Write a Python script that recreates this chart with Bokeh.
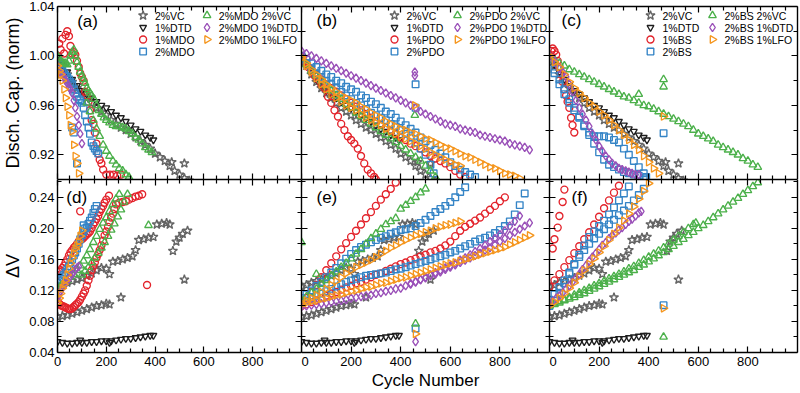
import math
from bokeh.plotting import figure
from bokeh.models import Range1d, LinearAxis, FixedTicker, NumeralTickFormatter
from bokeh.layouts import column, row
from bokeh.core.properties import value
from bokeh.embed import file_html
from bokeh.resources import INLINE

FONT = "Liberation Sans"

# ---------------- axes / ticks ----------------
X_RANGE = (0, 1000)
X_TICKS = [0, 200, 400, 600, 800]
X_MINOR = [50, 100, 150, 250, 300, 350, 450, 500, 550, 650, 700, 750, 850, 900, 950]
CAP_RANGE = (0.90, 1.04)
CAP_TICKS = [0.92, 0.96, 1.00, 1.04]
CAP_MINOR = [0.90, 0.94, 0.98, 1.02]
DV_RANGE = (0.04, 0.263)
DV_TICKS = [0.04, 0.08, 0.12, 0.16, 0.20, 0.24]
DV_MINOR = [0.06, 0.10, 0.14, 0.18, 0.22, 0.26]

# ---------------- shared baseline cells (cycle, value) ----------------
VC_CAP = [(0,1.000),(20,0.992),(40,0.985),(60,0.979),(80,0.974),(100,0.970),(120,0.966),(140,0.962),(160,0.958),(180,0.955),(200,0.952),(220,0.948),(240,0.945),(260,0.942),(280,0.940),(300,0.937),(320,0.934),(340,0.931),(360,0.928),(380,0.925),(400,0.921),(420,0.918),(440,0.915),(460,0.911),(480,0.907),(500,0.904),(520,0.901),(540,0.899),(468,0.914),(520,0.913)]
DTD_CAP = [(0,1.000),(20,0.993),(40,0.987),(60,0.981),(80,0.976),(100,0.972),(120,0.969),(140,0.966),(160,0.963),(180,0.960),(200,0.958),(220,0.955),(240,0.952),(260,0.950),(280,0.947),(300,0.944),(320,0.941),(340,0.939),(360,0.936),(380,0.934),(393,0.932)]
VC_DV_LOW = [(0,0.086),(20,0.087),(40,0.088),(60,0.090),(80,0.092),(100,0.094),(120,0.096),(140,0.098),(160,0.100),(180,0.101),(200,0.103),(213,0.102),(260,0.111)]
VC_DV_HIGH = [(0,0.125),(20,0.127),(40,0.130),(60,0.132),(80,0.134),(100,0.136),(120,0.139),(140,0.142),(160,0.146),(180,0.149),(200,0.148),(213,0.141),(227,0.157),(247,0.158),(267,0.160),(287,0.162),(307,0.164),(320,0.172),(333,0.185),(353,0.186),(373,0.188),(393,0.189),(407,0.205),(427,0.206),(447,0.207),(460,0.205),(473,0.171),(487,0.183),(500,0.188),(513,0.193),(533,0.197),(520,0.134)]
DTD_DV = [(0,0.054),(20,0.053),(40,0.052),(60,0.052),(80,0.053),(93,0.056),(100,0.053),(120,0.053),(140,0.054),(160,0.054),(180,0.055),(200,0.055),(213,0.053),(220,0.055),(240,0.056),(260,0.057),(280,0.058),(300,0.058),(320,0.059),(340,0.060),(360,0.061),(380,0.062),(393,0.062)]

# ---------------- panel (a): MDO capacity ----------------
A_RED = [(0,1.000),(7,1.010),(13,1.005),(20,1.014),(27,1.002),(33,1.017),(40,1.020),(47,1.016),(53,1.008),(60,1.002),(67,1.003),(73,1.001),(80,0.996),(87,0.991),(93,0.986),(100,0.983),(107,0.980),(113,0.971),(120,0.968),(127,0.963),(133,0.956),(140,0.948),(147,0.945),(153,0.938),(160,0.929),(167,0.921),(173,0.916),(180,0.913),(187,0.908),(200,0.904),(215,0.904),(230,0.904),(245,0.903),(260,0.904)]
A_BLUE = [(0,0.998),(7,0.993),(13,0.990),(20,0.988),(27,0.986),(33,0.984),(40,0.983),(47,0.981),(53,0.979),(60,0.977),(67,0.973),(73,0.970),(80,0.967),(87,0.965),(93,0.964),(100,0.962),(107,0.958),(113,0.952),(120,0.947),(127,0.942),(133,0.937),(140,0.930),(147,0.927),(153,0.925),(160,0.923),(167,0.921),(60,0.942),(67,0.938),(80,0.913)]
A_GREEN = [(0,1.000),(7,0.998),(13,0.996),(20,0.995),(27,0.994),(33,0.994),(40,0.993),(47,0.996),(53,1.000),(60,1.003),(67,1.005),(73,1.000),(80,0.995),(87,0.991),(93,0.987),(100,0.984),(107,0.981),(113,0.978),(120,0.974),(127,0.972),(133,0.970),(140,0.968),(150,0.965),(160,0.960),(170,0.956),(180,0.953),(190,0.950),(200,0.948),(213,0.946),(227,0.944),(240,0.943),(253,0.943),(267,0.942),(280,0.941),(293,0.939),(307,0.937),(320,0.934),(333,0.932),(347,0.929),(360,0.926),(373,0.924),(387,0.922)]
A_GREEN_B = [(120,0.962),(133,0.955),(147,0.948),(160,0.941),(173,0.935),(187,0.928),(200,0.923),(213,0.919),(227,0.915),(240,0.912),(253,0.909),(267,0.907),(280,0.904),(293,0.902)]
A_PURPLE = [(0,0.992),(7,0.988),(13,0.986),(20,0.985),(27,0.983),(33,0.980),(40,0.978),(47,0.975),(53,0.973),(60,0.970),(67,0.964),(73,0.958),(80,0.951),(87,0.944),(93,0.937),(100,0.929)]
A_ORANGE = [(0,0.992),(7,0.988),(13,0.985),(20,0.980),(27,0.973),(33,0.966),(40,0.959),(47,0.952),(53,0.944),(60,0.939),(67,0.928),(73,0.919),(80,0.913),(87,0.905)]

# ---------------- panel (d): MDO delta V ----------------
D_RED_U = [(0,0.105),(7,0.103),(13,0.101),(20,0.100),(27,0.099),(33,0.098),(40,0.097),(47,0.096),(53,0.096),(60,0.097),(67,0.099),(73,0.101),(80,0.103),(87,0.105),(93,0.108),(100,0.112),(107,0.116),(113,0.120),(120,0.126),(127,0.133),(133,0.139),(140,0.146),(147,0.151),(153,0.156),(160,0.162),(167,0.167),(173,0.172),(180,0.178),(187,0.184),(193,0.191),(200,0.196),(207,0.202),(213,0.208),(220,0.214),(227,0.219),(233,0.225),(240,0.231),(253,0.233),(267,0.234),(280,0.235),(293,0.237),(307,0.239),(320,0.241),(333,0.242),(347,0.244),(367,0.127)]
D_RED_S = [(0,0.140),(7,0.144),(13,0.146),(20,0.149),(27,0.152),(33,0.156),(40,0.160),(47,0.165),(53,0.169),(60,0.172),(67,0.175),(73,0.177),(80,0.180),(87,0.183),(93,0.222),(100,0.186),(107,0.188),(113,0.190),(120,0.192),(127,0.194),(133,0.196),(140,0.200),(147,0.205),(153,0.208),(160,0.212),(167,0.216),(173,0.221),(180,0.225),(187,0.229),(193,0.233),(200,0.237),(211,0.242)]
D_BLUE = [(0,0.130),(7,0.133),(13,0.135),(20,0.137),(27,0.140),(33,0.143),(40,0.147),(47,0.151),(53,0.156),(60,0.160),(67,0.165),(73,0.169),(80,0.174),(87,0.180),(93,0.186),(100,0.191),(107,0.196),(113,0.200),(120,0.201),(127,0.206),(133,0.210),(140,0.214),(147,0.220),(153,0.225),(160,0.229),(107,0.204)]
D_GREEN = [(0,0.122),(13,0.126),(27,0.129),(40,0.133),(53,0.137),(67,0.141),(80,0.146),(93,0.152),(107,0.158),(120,0.165),(133,0.173),(147,0.182),(160,0.190),(173,0.199),(187,0.207),(200,0.214),(213,0.222),(227,0.231),(240,0.238),(253,0.244),(373,0.204)]
D_GREEN_B = [(100,0.140),(113,0.145),(127,0.150),(140,0.156),(153,0.162),(167,0.168),(180,0.175),(193,0.182),(207,0.190),(220,0.198),(233,0.206),(247,0.215),(260,0.224),(273,0.234),(287,0.244)]
D_PURPLE = [(0,0.110),(7,0.115),(13,0.119),(20,0.123),(27,0.126),(33,0.129),(40,0.132),(47,0.135),(53,0.138),(60,0.141),(67,0.144),(73,0.147),(80,0.149),(87,0.151)]
D_ORANGE = [(0,0.104),(7,0.110),(13,0.116),(20,0.123),(27,0.128),(33,0.133),(40,0.140),(47,0.148),(53,0.155),(60,0.162),(67,0.168),(73,0.174),(80,0.178),(87,0.183),(93,0.190),(100,0.197)]

# ---------------- panel (b): PDO capacity ----------------
B_RED = [(0,0.998),(13,0.995),(27,0.991),(40,0.988),(53,0.984),(67,0.981),(80,0.977),(93,0.974),(107,0.967),(120,0.962),(133,0.956),(147,0.951),(160,0.945),(173,0.940),(187,0.935),(200,0.932),(213,0.929),(227,0.925),(240,0.919),(253,0.913),(267,0.908),(280,0.905),(293,0.902),(300,0.900)]
B_RED_B = [(0,0.998),(20,0.993),(40,0.989),(60,0.985),(80,0.981),(100,0.977),(120,0.974),(140,0.971),(160,0.968),(180,0.965),(200,0.962),(220,0.959),(240,0.956),(260,0.953),(280,0.950),(300,0.947),(320,0.944),(340,0.942),(360,0.939),(380,0.937),(400,0.934),(420,0.932),(440,0.929),(460,0.927),(480,0.925),(500,0.922),(520,0.919),(540,0.917),(560,0.915),(580,0.913),(600,0.910),(620,0.907),(640,0.904),(660,0.902)]
B_BLUE = [(0,1.000),(20,0.997),(40,0.994),(60,0.991),(80,0.988),(100,0.985),(120,0.983),(140,0.980),(160,0.978),(180,0.975),(200,0.973),(220,0.971),(240,0.968),(260,0.966),(280,0.963),(300,0.961),(320,0.958),(340,0.955),(360,0.953),(380,0.950),(400,0.947),(420,0.944),(440,0.941),(460,0.938),(480,0.934),(500,0.931),(520,0.928),(540,0.924),(560,0.921),(580,0.918),(600,0.914),(620,0.911),(640,0.908),(660,0.906),(680,0.904),(700,0.902),(460,0.977),(460,0.958)]
B_BLUE_B = [(0,0.998),(20,0.994),(40,0.990),(60,0.986),(80,0.983),(100,0.980),(120,0.977),(140,0.974),(160,0.971),(180,0.968),(200,0.965),(220,0.962),(240,0.960),(260,0.957),(280,0.954),(300,0.952),(320,0.950),(340,0.948),(360,0.945),(380,0.943),(400,0.940),(420,0.937),(440,0.934),(460,0.930),(480,0.925),(500,0.920),(520,0.912),(533,0.905)]
B_GREEN = [(0,0.998),(20,0.993),(40,0.988),(60,0.984),(80,0.980),(100,0.976),(120,0.972),(140,0.968),(160,0.965),(180,0.961),(200,0.958),(220,0.954),(240,0.951),(260,0.948),(280,0.945),(300,0.942),(320,0.939),(340,0.936),(360,0.933),(380,0.930),(400,0.927),(420,0.924),(440,0.921),(460,0.918),(480,0.915),(500,0.911),(520,0.907),(540,0.902),(457,0.952)]
B_PURPLE = [(0,1.004),(20,1.002),(40,1.000),(60,0.998),(80,0.996),(100,0.994),(120,0.992),(140,0.990),(160,0.988),(180,0.986),(200,0.984),(220,0.982),(240,0.980),(260,0.978),(280,0.976),(300,0.974),(320,0.972),(340,0.970),(360,0.968),(380,0.966),(400,0.964),(420,0.962),(440,0.960),(460,0.958),(480,0.955),(500,0.953),(520,0.951),(540,0.949),(560,0.947),(580,0.945),(600,0.944),(620,0.943),(640,0.941),(660,0.940),(680,0.939),(700,0.938),(720,0.936),(740,0.935),(760,0.934),(780,0.933),(800,0.932),(820,0.931),(840,0.929),(860,0.928),(880,0.927),(900,0.926),(920,0.924),(457,0.987),(457,0.984)]
B_ORANGE = [(0,0.999),(20,0.994),(40,0.989),(60,0.985),(80,0.981),(100,0.977),(120,0.974),(140,0.971),(160,0.968),(180,0.966),(200,0.964),(220,0.962),(240,0.959),(260,0.957),(280,0.954),(300,0.952),(320,0.950),(340,0.947),(360,0.945),(380,0.943),(400,0.941),(420,0.940),(440,0.938),(460,0.937),(480,0.935),(500,0.933),(520,0.932),(540,0.930),(560,0.928),(580,0.926),(600,0.925),(620,0.923),(640,0.921),(660,0.919),(680,0.918),(700,0.916),(720,0.914),(740,0.912),(760,0.910),(780,0.909),(800,0.907),(820,0.905),(840,0.904),(860,0.903),(880,0.901),(457,0.960)]
B_ORANGE_B = [(0,0.998),(20,0.992),(40,0.987),(60,0.982),(80,0.977),(100,0.973),(120,0.969),(140,0.966),(160,0.963),(180,0.960),(200,0.958),(220,0.956),(240,0.953),(260,0.950),(280,0.948),(300,0.946),(320,0.944),(340,0.941),(360,0.939),(380,0.937),(400,0.935),(420,0.933),(440,0.931),(460,0.929),(480,0.927),(500,0.925),(520,0.922),(540,0.920),(560,0.918),(580,0.916),(600,0.914),(620,0.912),(640,0.911)]

# ---------------- panel (e): PDO delta V ----------------
E_RED = [(0,0.103),(20,0.110),(40,0.118),(60,0.127),(80,0.137),(100,0.146),(120,0.155),(140,0.164),(160,0.173),(180,0.181),(200,0.189),(220,0.197),(240,0.205),(260,0.213),(280,0.221),(300,0.229),(320,0.237),(340,0.244),(360,0.251),(380,0.259)]
E_RED_B = [(0,0.100),(20,0.102),(40,0.105),(60,0.107),(80,0.110),(100,0.113),(120,0.116),(140,0.118),(160,0.121),(180,0.124),(200,0.126),(220,0.129),(240,0.131),(260,0.134),(280,0.137),(300,0.140),(320,0.142),(340,0.145),(360,0.148),(380,0.151),(400,0.154),(420,0.156),(440,0.159),(460,0.161),(480,0.164),(500,0.166),(520,0.169),(540,0.171),(560,0.174),(580,0.178),(600,0.183),(620,0.190),(640,0.197),(660,0.202),(680,0.206),(700,0.210),(720,0.214),(740,0.219),(760,0.224),(780,0.229),(800,0.235),(820,0.240)]
E_BLUE = [(0,0.110),(20,0.115),(40,0.120),(60,0.126),(80,0.131),(100,0.137),(120,0.143),(140,0.149),(160,0.155),(180,0.161),(200,0.167),(220,0.172),(240,0.176),(260,0.179),(280,0.182),(300,0.185),(320,0.188),(340,0.190),(360,0.193),(380,0.195),(400,0.198),(420,0.199),(440,0.200),(460,0.203),(480,0.207),(500,0.211),(520,0.216),(540,0.221),(560,0.225),(580,0.229),(600,0.234),(620,0.240),(640,0.247),(660,0.253),(460,0.071)]
E_BLUE_B = [(0,0.104),(20,0.107),(40,0.110),(60,0.113),(80,0.116),(100,0.119),(120,0.122),(140,0.125),(160,0.128),(180,0.131),(200,0.133),(220,0.135),(240,0.137),(260,0.139),(280,0.140),(300,0.141),(320,0.142),(340,0.143),(360,0.145),(380,0.147),(400,0.148),(420,0.150),(440,0.152),(460,0.154),(480,0.156),(500,0.158),(520,0.160),(540,0.162),(560,0.164),(580,0.166),(600,0.169),(620,0.171),(640,0.174),(660,0.177),(680,0.180),(700,0.183),(720,0.186),(740,0.188),(760,0.191),(780,0.194),(800,0.198),(820,0.203),(840,0.209),(860,0.218),(880,0.230),(900,0.245)]
E_GREEN = [(0,0.107),(20,0.112),(40,0.117),(60,0.122),(80,0.128),(100,0.133),(120,0.139),(140,0.144),(160,0.150),(180,0.155),(200,0.161),(220,0.167),(240,0.173),(260,0.180),(280,0.187),(300,0.193),(320,0.199),(340,0.205),(360,0.209),(380,0.213),(400,0.225),(420,0.230),(440,0.235),(460,0.240),(480,0.246),(500,0.251),(0,0.182),(60,0.141),(460,0.077)]
E_PURPLE = [(0,0.099),(20,0.100),(40,0.101),(60,0.102),(80,0.103),(100,0.104),(120,0.105),(140,0.106),(160,0.107),(180,0.108),(200,0.110),(220,0.111),(240,0.112),(260,0.113),(280,0.114),(300,0.116),(320,0.117),(340,0.119),(360,0.120),(380,0.122),(400,0.123),(420,0.126),(440,0.128),(460,0.131),(480,0.134),(500,0.137),(520,0.140),(540,0.143),(560,0.146),(580,0.149),(600,0.152),(620,0.155),(640,0.159),(660,0.162),(680,0.166),(700,0.170),(720,0.174),(740,0.178),(760,0.183),(780,0.187),(800,0.192),(820,0.197),(840,0.203),(860,0.209),(880,0.216),(460,0.054)]
E_PURPLE_B = [(440,0.129),(460,0.131),(480,0.134),(500,0.136),(520,0.139),(540,0.141),(560,0.144),(580,0.147),(600,0.150),(620,0.153),(640,0.156),(660,0.159),(680,0.162),(700,0.165),(720,0.168),(740,0.172),(760,0.175),(780,0.179),(800,0.183),(820,0.187),(840,0.191),(860,0.195),(880,0.199),(900,0.203),(920,0.207)]
E_ORANGE = [(0,0.104),(20,0.107),(40,0.110),(60,0.114),(80,0.118),(100,0.122),(120,0.127),(140,0.132),(160,0.137),(180,0.142),(200,0.146),(220,0.150),(240,0.153),(260,0.156),(280,0.159),(300,0.163),(320,0.167),(340,0.171),(360,0.175),(380,0.178),(400,0.182),(420,0.185),(440,0.188),(460,0.191),(480,0.193),(500,0.195),(520,0.197),(540,0.200),(560,0.202),(580,0.204),(600,0.205),(620,0.207),(640,0.209),(460,0.064)]
E_ORANGE_B = [(0,0.102),(20,0.104),(40,0.106),(60,0.107),(80,0.109),(100,0.110),(120,0.112),(140,0.114),(160,0.115),(180,0.117),(200,0.119),(220,0.120),(240,0.122),(260,0.124),(280,0.125),(300,0.127),(320,0.129),(340,0.130),(360,0.132),(380,0.134),(400,0.136),(420,0.137),(440,0.139),(460,0.141),(480,0.143),(500,0.145),(520,0.147),(540,0.149),(560,0.151),(580,0.153),(600,0.155),(620,0.156),(640,0.158),(660,0.160),(680,0.162),(700,0.164),(720,0.166),(740,0.168),(760,0.170),(780,0.172),(800,0.174),(820,0.176),(840,0.179),(860,0.182),(880,0.185),(900,0.188),(920,0.191)]

# ---------------- panel (c): BS capacity ----------------
C_RED = [(0,1.000),(7,1.004),(13,1.006),(20,1.004),(27,1.001),(33,0.996),(40,0.990),(47,0.985),(53,0.979),(60,0.973),(67,0.968),(73,0.963),(80,0.958),(87,0.950),(93,0.944),(100,0.938)]
C_BLUE = [(0,0.997),(20,0.989),(40,0.981),(60,0.973),(80,0.965),(100,0.958),(120,0.951),(140,0.944),(160,0.938),(180,0.935),(200,0.935),(220,0.935),(240,0.934),(260,0.932),(280,0.930),(300,0.925),(320,0.920),(340,0.915),(360,0.910),(380,0.905),(390,0.902),(460,0.9375)]
C_BLUE_B = [(0,0.995),(20,0.986),(40,0.977),(60,0.969),(80,0.962),(100,0.956),(120,0.950),(140,0.943),(160,0.936),(180,0.929),(200,0.922),(220,0.916),(240,0.912),(260,0.910),(280,0.908),(300,0.906),(320,0.905),(340,0.904),(360,0.903),(380,0.901)]
C_GREEN = [(0,1.000),(20,0.997),(40,0.994),(60,0.992),(80,0.989),(100,0.987),(120,0.985),(140,0.983),(160,0.981),(180,0.979),(200,0.977),(220,0.975),(240,0.973),(260,0.971),(280,0.969),(300,0.967),(320,0.966),(340,0.964),(360,0.962),(380,0.960),(400,0.959),(420,0.957),(440,0.955),(460,0.953),(480,0.951),(500,0.949),(520,0.947),(540,0.945),(560,0.943),(580,0.940),(600,0.937),(620,0.935),(640,0.933),(660,0.931),(680,0.928),(700,0.926),(720,0.924),(740,0.922),(760,0.920),(780,0.917),(800,0.915),(820,0.912),(840,0.910),(460,0.981),(460,0.975),(360,0.969)]
C_PURPLE = [(0,1.000),(13,0.998),(27,0.994),(40,0.990),(53,0.987),(67,0.983),(80,0.977),(93,0.971),(107,0.964),(120,0.958),(133,0.953),(147,0.948),(160,0.943),(173,0.937),(187,0.932),(200,0.927),(213,0.923),(227,0.919),(240,0.916),(253,0.913),(267,0.911),(280,0.909),(293,0.908),(307,0.907),(320,0.906),(333,0.905),(347,0.904),(360,0.904)]
C_ORANGE = [(0,1.000),(20,0.995),(40,0.991),(60,0.985),(80,0.979),(100,0.974),(120,0.970),(140,0.966),(160,0.962),(180,0.959),(200,0.955),(220,0.952),(240,0.948),(260,0.944),(280,0.940),(300,0.936),(320,0.932),(340,0.928),(360,0.924),(380,0.919),(400,0.914),(420,0.909),(440,0.905),(460,0.951)]

# ---------------- panel (f): BS delta V ----------------
F_RED = [(13,0.174),(20,0.186),(33,0.201),(40,0.216),(53,0.234),(60,0.250)]
F_RED_B = [(0,0.125),(20,0.133),(40,0.141),(60,0.150),(80,0.159),(100,0.168),(120,0.177),(140,0.186),(160,0.195),(180,0.205),(200,0.215),(220,0.226),(240,0.236),(260,0.246),(280,0.255)]
F_BLUE = [(0,0.100),(20,0.107),(40,0.117),(60,0.129),(80,0.141),(100,0.154),(120,0.166),(140,0.178),(160,0.189),(180,0.196),(200,0.203),(220,0.210),(240,0.218),(260,0.227),(280,0.236),(300,0.245),(320,0.254),(460,0.101)]
F_BLUE_B = [(0,0.108),(20,0.115),(40,0.124),(60,0.133),(80,0.143),(100,0.153),(120,0.163),(140,0.172),(160,0.180),(180,0.187),(200,0.193),(220,0.199),(240,0.205),(260,0.211),(280,0.217),(300,0.223),(320,0.229),(340,0.236),(360,0.243),(380,0.251)]
F_GREEN = [(0,0.101),(20,0.103),(40,0.106),(60,0.108),(80,0.111),(100,0.114),(120,0.117),(140,0.120),(160,0.123),(180,0.126),(200,0.129),(220,0.132),(240,0.135),(260,0.138),(280,0.141),(300,0.144),(320,0.148),(340,0.151),(360,0.155),(380,0.159),(400,0.163),(420,0.167),(440,0.171),(460,0.175),(480,0.180),(500,0.185),(520,0.190),(540,0.195),(560,0.200),(580,0.205),(590,0.207),(460,0.060)]
F_GREEN_B = [(0,0.100),(20,0.102),(40,0.104),(60,0.107),(80,0.109),(100,0.111),(120,0.114),(140,0.116),(160,0.119),(180,0.122),(200,0.125),(220,0.128),(240,0.131),(260,0.134),(280,0.137),(300,0.140),(320,0.143),(340,0.146),(360,0.150),(380,0.153),(400,0.157),(420,0.161),(440,0.165),(460,0.169),(480,0.173),(500,0.177),(520,0.182),(540,0.186),(560,0.191),(580,0.195),(600,0.200),(620,0.204),(640,0.209),(660,0.214),(680,0.219),(700,0.224),(720,0.229),(740,0.234),(760,0.239),(780,0.244),(800,0.249),(820,0.254),(840,0.259)]
F_PURPLE = [(0,0.102),(13,0.106),(27,0.110),(40,0.113),(53,0.117),(67,0.122),(80,0.126),(93,0.131),(107,0.136),(120,0.141),(133,0.147),(147,0.152),(160,0.158),(173,0.163),(187,0.168),(200,0.173),(213,0.178),(227,0.182),(240,0.187),(253,0.191),(267,0.194),(280,0.198),(293,0.201),(307,0.205),(320,0.209),(333,0.212),(347,0.216),(360,0.220),(370,0.222)]
F_ORANGE = [(0,0.100),(20,0.105),(40,0.110),(60,0.116),(80,0.123),(100,0.130),(120,0.138),(140,0.146),(160,0.154),(180,0.161),(200,0.169),(220,0.177),(240,0.185),(260,0.193),(280,0.201),(300,0.210),(320,0.219),(340,0.228),(360,0.238),(380,0.248),(400,0.258),(460,0.097)]

# ---------------- legends ----------------
LEG_A = ["2%VC", "1%DTD", "1%MDO", "2%MDO", "2%MDO 2%VC", "2%MDO 1%DTD", "2%MDO 1%LFO"]
LEG_B = ["2%VC", "1%DTD", "1%PDO", "2%PDO", "2%PDO 2%VC", "2%PDO 1%DTD", "2%PDO 1%LFO"]
LEG_C = ["2%VC", "1%DTD", "1%BS", "2%BS", "2%BS 2%VC", "2%BS 1%DTD", "2%BS 1%LFO"]
LEG_KEYS = ["vc", "dtd", "red", "blue", "green", "purple", "orange"]

# ---------------- styles ----------------
STYLES = {
    "vc": ("star", "#646464", 9.5, 0.0),
    "dtd": ("inverted_triangle", "#1e1e1e", 6.8, 0.0),
    "red": ("circle", "#e3232b", 7.0, 0.0),
    "blue": ("square", "#3484c6", 6.6, 0.0),
    "green": ("triangle", "#4bb04a", 7.6, 0.0),
    "purple": ("diamond", "#9a50b8", 8.4, 0.0),
    "orange": ("triangle", "#f5961e", 7.6, -math.pi / 2),
}
MARKER_LW = 1.35

# layout geometry (px)
L_BORDER, R_BORDER, T_BORDER, B_BORDER = 53, 3, 6, 41
FW, FH = 248, 173


def unzip(series):
    return [c for c, _ in series], [v for _, v in series]


def add_series(p, key, series):
    marker, color, size, angle = STYLES[key]
    xs, ys = unzip(series)
    p.scatter(x=xs, y=ys, marker=marker, size=size, angle=angle,
              line_color=color, fill_color=None, line_width=MARKER_LW)


def style_axis(ax, ticks, minor, fmt, show, standoff=3):
    ax.ticker = FixedTicker(ticks=ticks, minor_ticks=minor)
    if fmt:
        ax.formatter = NumeralTickFormatter(format=fmt)
    ax.axis_line_color = "black"
    ax.axis_line_width = 1.4
    ax.major_tick_in = 6
    ax.major_tick_out = 0
    ax.minor_tick_in = 4
    ax.minor_tick_out = 0
    ax.major_tick_line_color = "black"
    ax.minor_tick_line_color = "black"
    ax.major_tick_line_width = 1.2
    ax.minor_tick_line_width = 1.2
    ax.major_label_text_font = FONT
    if show:
        ax.major_label_text_color = "black"
        ax.major_label_text_font_size = "13px"
        ax.major_label_standoff = standoff
    else:
        # tick marks only: labels are not drawn and take no room
        ax.major_label_text_color = None
        ax.major_label_text_font_size = "0px"
        ax.major_label_standoff = 0
    ax.axis_label_text_font = FONT
    ax.axis_label_text_font_style = "normal"
    ax.axis_label_text_color = "black"


def make_panel(kind, col, bottom_row, y_label=None, x_label=None):
    yr = CAP_RANGE if kind == "cap" else DV_RANGE
    yt = CAP_TICKS if kind == "cap" else DV_TICKS
    ym = CAP_MINOR if kind == "cap" else DV_MINOR
    left = L_BORDER if col == 0 else 0
    right = R_BORDER if col == 2 else 0
    top = 0 if bottom_row else T_BORDER
    bottom = B_BORDER if bottom_row else 0
    p = figure(width=FW + left + right, height=FH + top + bottom,
               x_range=Range1d(*X_RANGE), y_range=Range1d(*yr),
               output_backend="svg", toolbar_location=None,
               min_border_left=left, min_border_right=right,
               min_border_top=top, min_border_bottom=bottom,
               outline_line_color=None, background_fill_color="white",
               border_fill_color="white")
    p.xgrid.visible = False
    p.ygrid.visible = False
    p.add_layout(LinearAxis(), "above")
    p.add_layout(LinearAxis(), "right")
    style_axis(p.below[0], X_TICKS, X_MINOR, None, bottom_row, standoff=4)
    style_axis(p.above[0], X_TICKS, X_MINOR, None, False)
    style_axis(p.left[0], yt, ym, "0.00", col == 0, standoff=3)
    style_axis(p.right[0], yt, ym, "0.00", False)
    if y_label:
        ax = p.left[0]
        ax.axis_label = y_label
        ax.axis_label_text_font_size = "18px"
        ax.axis_label_standoff = 3
    if x_label:
        ax = p.below[0]
        ax.axis_label = x_label
        ax.axis_label_text_font_size = "17px"
        ax.axis_label_standoff = 2
    return p, yr


def px_to_data(yr, px_x, px_top):
    x = X_RANGE[0] + px_x * (X_RANGE[1] - X_RANGE[0]) / FW
    y = yr[1] - px_top * (yr[1] - yr[0]) / FH
    return x, y


def panel_label(p, yr, txt, px_x, px_top):
    x, y = px_to_data(yr, px_x, px_top)
    p.text(x=[x], y=[y], text=[txt], text_font=value(FONT), text_font_size="17px",
           text_baseline="middle", text_align="left", text_color="black")


def legend(p, yr, labels, col1_text_x, col2_text_x):
    for i, (key, lab) in enumerate(zip(LEG_KEYS, labels)):
        if i < 4:
            tx, r = col1_text_x, i
        else:
            tx, r = col2_text_x, i - 4
        ry = 9 + 12 * r
        mx, my = px_to_data(yr, tx - 12, ry)
        txx, _ = px_to_data(yr, tx, ry)
        marker, color, size, angle = STYLES[key]
        p.scatter(x=[mx], y=[my], marker=marker, size=size, angle=angle,
                  line_color=color, fill_color=None, line_width=MARKER_LW)
        p.text(x=[txx], y=[my], text=[lab], text_font=value(FONT), text_font_size="10.5px",
               text_baseline="middle", text_align="left", text_color="black")


# ---------------- build panels ----------------
pa, ya = make_panel("cap", 0, False, y_label="Disch. Cap. (norm)")
pb, yb = make_panel("cap", 1, False)
pc, yc = make_panel("cap", 2, False)
pd, yd = make_panel("dv", 0, True, y_label="ΔV")
pe, ye = make_panel("dv", 1, True, x_label="Cycle Number")
pf, yf = make_panel("dv", 2, True)

panel_data = {
    "a": (pa, [("vc", VC_CAP), ("dtd", DTD_CAP), ("red", A_RED), ("blue", A_BLUE),
               ("green", A_GREEN), ("green", A_GREEN_B), ("purple", A_PURPLE), ("orange", A_ORANGE)]),
    "b": (pb, [("vc", VC_CAP), ("dtd", DTD_CAP), ("red", B_RED_B), ("red", B_RED), ("blue", B_BLUE),
               ("blue", B_BLUE_B), ("green", B_GREEN), ("purple", B_PURPLE), ("orange", B_ORANGE),
               ("orange", B_ORANGE_B)]),
    "c": (pc, [("vc", VC_CAP), ("dtd", DTD_CAP), ("red", C_RED), ("blue", C_BLUE), ("blue", C_BLUE_B),
               ("green", C_GREEN), ("purple", C_PURPLE), ("orange", C_ORANGE)]),
    "d": (pd, [("vc", VC_DV_LOW), ("vc", VC_DV_HIGH), ("dtd", DTD_DV), ("red", D_RED_U), ("red", D_RED_S),
               ("blue", D_BLUE), ("green", D_GREEN), ("green", D_GREEN_B), ("purple", D_PURPLE),
               ("orange", D_ORANGE)]),
    "e": (pe, [("vc", VC_DV_LOW), ("vc", VC_DV_HIGH), ("dtd", DTD_DV), ("red", E_RED), ("red", E_RED_B),
               ("blue", E_BLUE), ("blue", E_BLUE_B), ("green", E_GREEN), ("purple", E_PURPLE),
               ("purple", E_PURPLE_B), ("orange", E_ORANGE), ("orange", E_ORANGE_B)]),
    "f": (pf, [("vc", VC_DV_LOW), ("vc", VC_DV_HIGH), ("dtd", DTD_DV), ("red", F_RED), ("red", F_RED_B),
               ("blue", F_BLUE), ("blue", F_BLUE_B), ("green", F_GREEN), ("green", F_GREEN_B),
               ("purple", F_PURPLE), ("orange", F_ORANGE)]),
}
for name, (p, series_list) in panel_data.items():
    for key, s in series_list:
        add_series(p, key, s)

panel_label(pa, ya, "(a)", 20, 15)
panel_label(pb, yb, "(b)", 15, 13.5)
panel_label(pc, yc, "(c)", 12, 13.5)
panel_label(pd, yd, "(d)", 9, 18)
panel_label(pe, ye, "(e)", 15, 18)
panel_label(pf, yf, "(f)", 22, 18)

legend(pa, ya, LEG_A, 99, 164)
legend(pb, yb, LEG_B, 105, 168)
legend(pc, yc, LEG_C, 113, 175)

layout = column(row(pa, pb, pc), row(pd, pe, pf))
open("out.html", "w").write(file_html(layout, INLINE))
